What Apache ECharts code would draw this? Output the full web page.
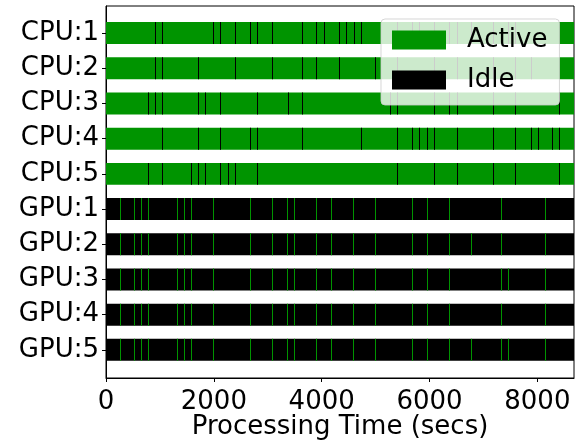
<!DOCTYPE html>
<html>
<head>
<meta charset="utf-8">
<script src="https://cdn.jsdelivr.net/npm/echarts@6/dist/echarts.min.js"></script>
<style>
  html, body { margin: 0; padding: 0; background: #fff; }
  #chart { width: 575px; height: 440px; }
</style>
</head>
<body>
<div id="chart"></div>
<script>
// rows top to bottom
const rows = ["CPU:1", "CPU:2", "CPU:3", "CPU:4", "CPU:5", "GPU:1", "GPU:2", "GPU:3", "GPU:4", "GPU:5"];
const xTicks = [0, 2000, 4000, 6000, 8000];
const endTime = 8680; // secs, whole run
const blip = 20;      // secs, length of a short idle/active slice

// CPU rows: start times of short idle slices
const cpu1Idle = [914, 1044, 1989, 2119, 2397, 2675, 2804, 3082, 3627, 3902, 4035, 4313, 4443, 4591, 4721, 5400, 5677, 5807, 6089, 6367, 6502, 6771, 7183, 7457, 7594];
const cpu2Idle = [914, 1044, 1711, 2397, 3082, 3627, 3902, 4313, 4992, 5400, 6089, 6502, 7183, 7594, 7874];
const cpu3Idle = [784, 914, 1044, 1711, 1841, 2119, 2804, 3368, 3627, 5270, 5400, 6089, 6367, 6502, 7183, 7594, 8406];
const cpu4Idle = [1044, 1711, 2119, 2675, 2804, 3627, 4721, 5400, 5677, 5807, 5955, 6089, 6502, 7183, 7594, 7874, 8004, 8280, 8406];
const cpu5Idle = [784, 1044, 1581, 1711, 1841, 2119, 2267, 2397, 2804, 5400, 6089, 6502, 7183, 7594, 8406];

// GPU rows: start times of short active slices
const gpu1Active = [265, 525, 654, 784, 1322, 1451, 1581, 1989, 2675, 3082, 3362, 3490, 3900, 4176, 4586, 4992, 5677, 5955, 6365, 7327, 8143];
const gpu2Active = [265, 525, 654, 784, 1322, 1451, 1581, 1989, 2675, 3082, 3362, 3490, 3900, 4176, 4586, 4992, 5677, 5955, 6365, 6771, 7327, 8143];
const gpu3Active = [265, 525, 654, 784, 1322, 1451, 1581, 1989, 2675, 3082, 3362, 3490, 3900, 4176, 4586, 4992, 5677, 5955, 6365, 7327, 7457, 8143];
const gpu4Active = [265, 525, 654, 784, 1322, 1451, 1581, 1989, 2675, 3082, 3362, 3490, 3900, 4176, 4586, 4992, 5677, 5955, 6365, 7327, 8143];
const gpu5Active = [265, 525, 654, 784, 1322, 1451, 1581, 1989, 2675, 3082, 3362, 3490, 3900, 4176, 4586, 4992, 5677, 5955, 6365, 6771, 7327, 7457, 8143];

const cpuIdle = [cpu1Idle, cpu2Idle, cpu3Idle, cpu4Idle, cpu5Idle];
const gpuActive = [gpu1Active, gpu2Active, gpu3Active, gpu4Active, gpu5Active];

const GREEN = "#009400";
const BLACK = "#000000";
const BAR_H = 0.625; // bar height in row units
const FONT = "DejaVu Sans";

// [start, end, row]
function slices(times, row) {
  return times.map((t) => [t, t + blip, row]);
}
const cpuBase = [0, 1, 2, 3, 4].map((i) => [0, endTime, i]);
const gpuBase = [5, 6, 7, 8, 9].map((i) => [0, endTime, i]);
let cpuSlices = [];
cpuIdle.forEach((list, i) => { cpuSlices = cpuSlices.concat(slices(list, i)); });
let gpuSlices = [];
gpuActive.forEach((list, i) => { gpuSlices = gpuSlices.concat(slices(list, i + 5)); });

function renderSeg(params, api) {
  const row = api.value(2);
  const p0 = api.coord([api.value(0), row]);
  const p1 = api.coord([api.value(1), row]);
  const h = api.size([0, BAR_H])[1];
  // snap thin slices to whole pixels so they stay crisp
  const x = Math.round(p0[0]);
  const w = Math.max(Math.round(p1[0] - p0[0]), 1);
  const cs = params.coordSys;
  const shape = echarts.graphic.clipRectByRect(
    { x: x, y: p0[1] - h / 2, width: w, height: h },
    { x: cs.x, y: cs.y, width: cs.width, height: cs.height }
  );
  return shape && { type: "rect", shape: shape, style: { fill: api.visual("color") } };
}

function segSeries(name, data, color, z) {
  return {
    name: name,
    type: "custom",
    renderItem: renderSeg,
    encode: { x: [0, 1], y: 2 },
    itemStyle: { color: color },
    data: data,
    z: z,
    silent: true,
  };
}

const chart = echarts.init(document.getElementById("chart"));
chart.setOption({
  animation: false,
  textStyle: { fontFamily: FONT },
  grid: {
    left: 106, right: 1, top: 6, bottom: 62,
    outerBoundsMode: "none",
    containLabel: false,
    show: true, borderColor: "#000", borderWidth: 1,
  },
  legend: {
    data: ["Active", "Idle"],
    orient: "vertical",
    left: 381, top: 19,
    icon: "rect",
    itemWidth: 54, itemHeight: 19,
    itemGap: 14,
    padding: [8, 12, 12, 11],
    backgroundColor: "rgba(255,255,255,0.8)",
    borderColor: "rgba(204,204,204,0.8)",
    borderWidth: 1,
    borderRadius: 4,
    textStyle: { fontSize: 26, color: "#000", fontFamily: FONT, padding: [0, 0, 0, 16] },
    selectedMode: false,
  },
  xAxis: {
    type: "value",
    min: 0,
    max: endTime,
    name: "Processing Time (secs)",
    nameLocation: "middle",
    nameGap: 36,
    nameMoveOverlap: false,
    nameTextStyle: { fontSize: 26, color: "#000", fontFamily: FONT },
    axisLine: { onZero: false, lineStyle: { color: "#000", width: 1 } },
    axisTick: { customValues: xTicks, length: 4, lineStyle: { color: "#000" } },
    axisLabel: {
      customValues: xTicks,
      formatter: (v) => String(v),
      fontSize: 26, color: "#000", margin: 11, fontFamily: FONT,
    },
    splitLine: { show: false },
  },
  yAxis: {
    type: "value",
    inverse: true,
    min: -0.77,
    max: 9.8,
    axisLine: { onZero: false, lineStyle: { color: "#000", width: 1 } },
    axisTick: { customValues: rows.map((r, i) => i), length: 4, lineStyle: { color: "#000" } },
    axisLabel: {
      customValues: rows.map((r, i) => i),
      formatter: (v) => rows[Math.round(v)],
      fontSize: 26, color: "#000", margin: 7, fontFamily: FONT,
    },
    splitLine: { show: false },
  },
  series: [
    segSeries("Active", cpuBase, GREEN, 2),
    segSeries("Idle", gpuBase, BLACK, 2),
    segSeries("Idle", cpuSlices, BLACK, 3),
    segSeries("Active", gpuSlices, GREEN, 3),
  ],
});
</script>
</body>
</html>
